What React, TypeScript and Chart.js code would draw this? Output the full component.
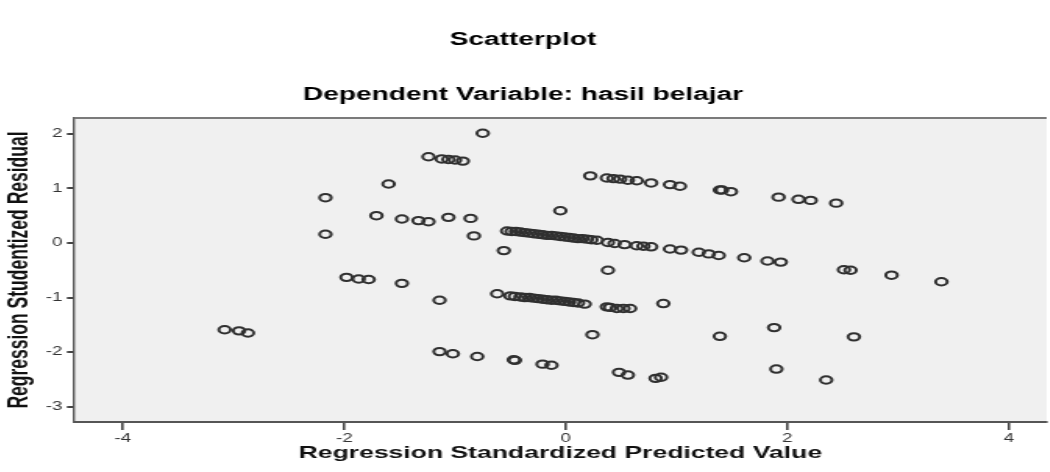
import React, { useEffect, useRef } from "react";
import { Chart, registerables } from "chart.js";

Chart.register(...registerables);

const chartTitle = "Scatterplot";
const chartSubtitle = "Dependent Variable: hasil belajar";
const xAxisTitle = "Regression Standardized Predicted Value";
const yAxisTitle = "Regression Studentized Residual";

const xTickValues = [-4, -2, 0, 2, 4];
const yTickValues = [-3, -2, -1, 0, 1, 2];

// Regression Standardized Predicted Value
const predicted = [
  -0.75,
  -1.24, -1.12, -1.06, -1.0, -0.93,
  0.22, 0.37, 0.43, 0.49, 0.56, 0.64, 0.77, 0.94, 1.03,
  -1.6,
  1.39, 1.41, 1.49, 1.92, 2.1, 2.21, 2.44,
  -2.17, -1.71, -1.48, -1.33, -1.24, -1.06, -0.86,
  -0.05,
  -2.17, -0.83, -0.56,
  -0.53, -0.49, -0.45, -0.41, -0.37, -0.33, -0.29, -0.25, -0.21, -0.17, -0.13,
  -0.09, -0.05, -0.01, 0.03, 0.07, 0.11, 0.15, 0.19, 0.23, 0.28,
  0.38, 0.44, 0.53, 0.64, 0.7, 0.77, 0.94, 1.04, 1.2, 1.29, 1.38,
  1.61, 1.82, 1.94, 2.51, 2.57, 2.94, 3.39,
  0.38,
  -1.98, -1.87, -1.78, -1.48,
  -1.14, -0.62,
  -0.5, -0.46, -0.41, -0.37, -0.33, -0.29, -0.25, -0.21, -0.17, -0.13, -0.09,
  -0.05, -0.01, 0.03, 0.07, 0.11, 0.17,
  0.37, 0.4, 0.46, 0.52, 0.58,
  0.88,
  -3.08, -2.95, -2.87,
  0.24, 1.39, 1.88, 2.6,
  -1.14, -1.02, -0.8, -0.47, -0.46, -0.21, -0.13, 0.48, 0.56, 0.81, 0.86,
  1.9, 2.35,
];

// Regression Studentized Residual
const residual = [
  2.01,
  1.58, 1.54, 1.53, 1.52, 1.5,
  1.23, 1.19, 1.18, 1.17, 1.15, 1.14, 1.1, 1.07, 1.04,
  1.08,
  0.97, 0.97, 0.94, 0.84, 0.8, 0.78, 0.73,
  0.83, 0.5, 0.44, 0.41, 0.39, 0.47, 0.45,
  0.59,
  0.16, 0.13, -0.14,
  0.22, 0.21, 0.21, 0.2, 0.19, 0.18, 0.17, 0.16, 0.15, 0.14, 0.14,
  0.13, 0.12, 0.11, 0.1, 0.09, 0.08, 0.08, 0.07, 0.06, 0.05,
  0.01, -0.01, -0.03, -0.05, -0.06, -0.07, -0.11, -0.13, -0.17, -0.2, -0.23,
  -0.27, -0.33, -0.35, -0.49, -0.5, -0.59, -0.71,
  -0.5,
  -0.63, -0.66, -0.67, -0.74,
  -1.05, -0.93,
  -0.97, -0.98, -0.99, -1.0, -1.0, -1.01, -1.02, -1.03, -1.04, -1.05, -1.05,
  -1.06, -1.07, -1.08, -1.09, -1.1, -1.12,
  -1.17, -1.18, -1.2, -1.2, -1.2,
  -1.11,
  -1.59, -1.61, -1.65,
  -1.68, -1.71, -1.55, -1.72,
  -1.99, -2.03, -2.08, -2.14, -2.15, -2.22, -2.24, -2.37, -2.42, -2.48, -2.46,
  -2.31, -2.51,
];

const FONT = '"Liberation Sans", Arial, sans-serif';

const plotBackground = {
  id: "plotBackground",
  beforeDraw(chart: any) {
    const { ctx, chartArea } = chart;
    if (!chartArea) return;
    ctx.save();
    ctx.fillStyle = "#f0f0f0";
    ctx.fillRect(
      chartArea.left,
      chartArea.top,
      chartArea.right - chartArea.left,
      chartArea.bottom - chartArea.top
    );
    ctx.restore();
  },
  afterDraw(chart: any) {
    const { ctx, chartArea } = chart;
    if (!chartArea) return;
    ctx.save();
    ctx.strokeStyle = "#7a7a7a";
    ctx.lineWidth = 2;
    ctx.beginPath();
    ctx.moveTo(chartArea.left, chartArea.top);
    ctx.lineTo(chartArea.right, chartArea.top);
    ctx.stroke();
    ctx.restore();
  },
};

export default function App() {
  const canvasRef = useRef<HTMLCanvasElement | null>(null);

  useEffect(() => {
    if (!canvasRef.current) return;
    const points = predicted.map((x, i) => ({ x, y: residual[i] }));
    const chart = new Chart(canvasRef.current, {
      type: "scatter",
      data: {
        datasets: [
          {
            data: points,
            pointStyle: "circle",
            pointRadius: 3.7,
            pointBorderWidth: 2,
            pointBorderColor: "#303030",
            pointBackgroundColor: "rgba(0,0,0,0)",
            showLine: false,
          },
        ],
      },
      plugins: [plotBackground],
      options: {
        responsive: false,
        devicePixelRatio: 1,
        animation: false,
        events: [],
        layout: { padding: 0 },
        plugins: {
          legend: { display: false },
          tooltip: { enabled: false },
          title: {
            display: true,
            text: chartTitle,
            color: "#000",
            font: { family: FONT, size: 18, weight: "bold", lineHeight: 1.2 },
            padding: { top: 29.2, bottom: 0 },
          },
          subtitle: {
            display: true,
            text: chartSubtitle,
            color: "#000",
            font: { family: FONT, size: 18, weight: "bold", lineHeight: 1.2 },
            padding: { top: 33.4, bottom: 12.2 },
          },
        },
        scales: {
          x: {
            type: "linear",
            min: -4.44,
            max: 4.34,
            afterBuildTicks: (scale: any) => {
              scale.ticks = xTickValues.map((v) => ({ value: v }));
            },
            afterFit: (scale: any) => {
              scale.height = 50;
            },
            grid: {
              drawOnChartArea: false,
              drawTicks: true,
              tickLength: 8,
              color: "#444",
              lineWidth: 1.6,
            },
            border: { display: true, color: "#555", width: 2 },
            ticks: {
              color: "#333",
              font: { family: FONT, size: 12 },
              padding: 1,
              maxRotation: 0,
              callback: (v: any) => String(v),
            },
            title: {
              display: true,
              text: xAxisTitle,
              color: "#111",
              font: { family: FONT, size: 17, weight: "bold", lineHeight: 1.2 },
              padding: { top: 0, bottom: 8.8 },
            },
          },
          y: {
            type: "linear",
            min: -3.28,
            max: 2.29,
            afterBuildTicks: (scale: any) => {
              scale.ticks = yTickValues.map((v) => ({ value: v }));
            },
            afterFit: (scale: any) => {
              scale.width = 53.8;
            },
            grid: {
              drawOnChartArea: false,
              drawTicks: true,
              tickLength: 4.5,
              color: "#444",
              lineWidth: 2,
            },
            border: { display: true, color: "#555", width: 1.4 },
            ticks: {
              color: "#333",
              font: { family: FONT, size: 12 },
              padding: 3,
              callback: (v: any) => String(v),
            },
            title: {
              display: true,
              text: yAxisTitle,
              color: "#111",
              font: { family: FONT, size: 17.5, weight: "bold", lineHeight: 1.2 },
              padding: { top: 9, bottom: 0 },
            },
          },
        },
      },
    } as any);
    return () => chart.destroy();
  }, []);

  return (
    <div
      style={{
        position: "fixed",
        left: 0,
        top: 0,
        width: 1050,
        height: 472,
        overflow: "hidden",
        background: "#fff",
      }}
    >
      <canvas
        ref={canvasRef}
        width={683}
        height={472}
        style={{
          position: "absolute",
          left: -10,
          top: 0,
          width: "1066px",
          height: "472px",
        }}
      />
    </div>
  );
}
